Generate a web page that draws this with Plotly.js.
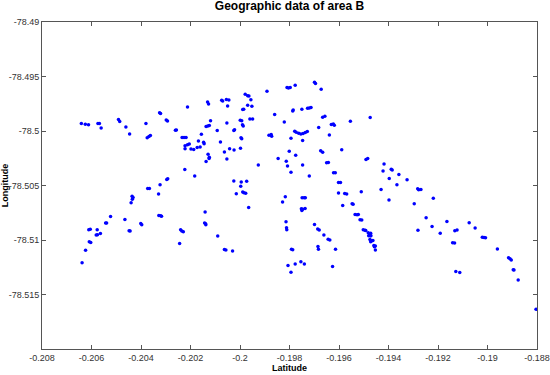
<!DOCTYPE html>
<html>
<head>
<meta charset="utf-8">
<script src="https://cdn.plot.ly/plotly-3.0.1.min.js"></script>
<style>
  html, body { margin: 0; padding: 0; background: #fff; }
  #chart { width: 550px; height: 375px; }
</style>
</head>
<body>
<div id="chart"></div>
<script>
// point positions
var lat = [
  -0.20641, -0.20625, -0.20612, -0.20574, -0.20568, -0.20561, -0.20491, -0.20486, -0.20461, -0.20446,
  -0.20380, -0.20375, -0.20368, -0.20362, -0.20325, -0.20321, -0.20298, -0.20293, -0.20261, -0.20257,
  -0.20234, -0.20226, -0.20218, -0.20222, -0.20222, -0.20212, -0.20205, -0.20198, -0.20187, -0.20173,
  -0.20161, -0.20168, -0.20156, -0.20147, -0.20145, -0.20212, -0.20131, -0.20127, -0.20137, -0.20130,
  -0.20124, -0.20119, -0.20129, -0.20125, -0.20124, -0.20137, -0.20092, -0.20079, -0.20074, -0.20070,
  -0.20055, -0.20045, -0.20050, -0.20053, -0.20063, -0.20042, -0.20053, -0.20025, -0.20022, -0.20024,
  -0.20223, -0.20183, -0.20296, -0.20292, -0.20323, -0.20373, -0.20366, -0.20329, -0.20025,
  -0.19979, -0.19969, -0.19964, -0.19956, -0.19969, -0.19952, -0.19989, -0.19985, -0.19999, -0.19993,
  -0.19990, -0.19987, -0.19960, -0.19949, -0.19996, -0.19993, -0.19998, -0.19891, -0.19810, -0.19804,
  -0.19797, -0.19777, -0.19699, -0.19695, -0.19672, -0.19787, -0.19785, -0.19750, -0.19727, -0.19720,
  -0.19713, -0.19860, -0.19821, -0.19666, -0.19657, -0.19554, -0.19474, -0.19631, -0.19623, -0.19619,
  -0.19682, -0.19639, -0.19779, -0.19773, -0.19763, -0.19754, -0.19745, -0.19736, -0.19728, -0.19794,
  -0.19747, -0.19883, -0.19874, -0.19872, -0.19801, -0.19775, -0.19846, -0.19813, -0.19808, -0.19794,
  -0.19926, -0.19747, -0.19720, -0.19674, -0.19666, -0.19589, -0.19650, -0.19643, -0.19622, -0.19615,
  -0.19602, -0.19594, -0.19491, -0.19484, -0.19418, -0.19422, -0.19389, -0.19397, -0.19510, -0.19430,
  -0.19577, -0.19569, -0.19602, -0.19995, -0.19973, -0.19997, -0.19989, -0.19984, -0.19977, -0.20015,
  -0.19385, -0.19358, -0.19366, -0.19325, -0.19282, -0.19278, -0.19269, -0.19219, -0.19398, -0.19296,
  -0.19248, -0.19164, -0.19074, -0.19281, -0.19224, -0.19191, -0.19132, -0.19123, -0.19050, -0.19021,
  -0.19014, -0.19008, -0.19141, -0.19133, -0.18960, -0.18915, -0.18909, -0.18904, -0.18896, -0.18893,
  -0.19128, -0.19112, -0.18876, -0.18804,
  -0.20436, -0.20432, -0.20435, -0.20440, -0.20523, -0.20543, -0.20539, -0.20465, -0.20611, -0.20605,
  -0.20577, -0.20581, -0.20576, -0.20564, -0.20609, -0.20603, -0.20624, -0.20638, -0.20448, -0.20444,
  -0.20401, -0.20397, -0.20328, -0.20321, -0.20317, -0.20141, -0.20143, -0.20139, -0.20138, -0.20240,
  -0.20235, -0.20229, -0.20244, -0.20090, -0.20063, -0.20057, -0.20030, -0.19965,
  -0.19817, -0.19828, -0.19749, -0.19741, -0.19736, -0.19752, -0.19747, -0.19737, -0.19750, -0.19585,
  -0.19547, -0.19543, -0.19535, -0.19527, -0.19522, -0.19515, -0.19508, -0.19502, -0.19495, -0.19492,
  -0.19482, -0.19476, -0.19472, -0.19480, -0.19474, -0.19471, -0.19475, -0.19467, -0.19463, -0.19472,
  -0.19459, -0.19453, -0.19457, -0.19453, -0.19814, -0.19812, -0.19811, -0.19699, -0.19686, -0.19680,
  -0.19661, -0.19644, -0.19637, -0.19685, -0.19683, -0.19614, -0.19792, -0.19787, -0.19806, -0.19777,
  -0.19754, -0.19740, -0.19794, -0.19626
];

var lon = [
  -78.49931, -78.49938, -78.49942, -78.49931, -78.49931, -78.49973, -78.49895, -78.49912, -78.49963, -78.50028,
  -78.49931, -78.50061, -78.50050, -78.50041, -78.49832, -78.49840, -78.49899, -78.49908, -78.49993, -78.49990,
  -78.50059, -78.50059, -78.50059, -78.50135, -78.50162, -78.50126, -78.50119, -78.50164, -78.50170, -78.50151,
  -78.50147, -78.50091, -78.50029, -78.50103, -78.50118, -78.49780, -78.49734, -78.49752, -78.49958, -78.49954,
  -78.49950, -78.49907, -78.50213, -78.50252, -78.50240, -78.50280, -78.49995, -78.50100, -78.49718, -78.49725,
  -78.49710, -78.49715, -78.49770, -78.49927, -78.50192, -78.50162, -78.50258, -78.49995, -78.49988, -78.50174,
  -78.50353, -78.50412, -78.50446, -78.50439, -78.50492, -78.50527, -78.50527, -78.50577, -78.50458,
  -78.49663, -78.49676, -78.49678, -78.49713, -78.49764, -78.49773, -78.49803, -78.49800, -78.49901, -78.49907,
  -78.49942, -78.49954, -78.49889, -78.49889, -78.50063, -78.50072, -78.50158, -78.49635, -78.49601, -78.49605,
  -78.49601, -78.49580, -78.49553, -78.49565, -78.49617, -78.49816, -78.49807, -78.49800, -78.49791, -78.49788,
  -78.49785, -78.49849, -78.49917, -78.49874, -78.49864, -78.49910, -78.49875, -78.49940, -78.49935, -78.49947,
  -78.49968, -78.50036, -78.50002, -78.50011, -78.50020, -78.50027, -78.50023, -78.50014, -78.50005, -78.50066,
  -78.50087, -78.50039, -78.50032, -78.50048, -78.50185, -78.50222, -78.50252, -78.50277, -78.50320, -78.50378,
  -78.50311, -78.50311, -78.50412, -78.50182, -78.50194, -78.50173, -78.50292, -78.50289, -78.50384, -78.50384,
  -78.50472, -78.50472, -78.50261, -78.50252, -78.50302, -78.50368, -78.50350, -78.50435, -78.50558, -78.50536,
  -78.50573, -78.50579, -78.50568, -78.50469, -78.50460, -78.50506, -78.50559, -78.50567, -78.50570, -78.50575,
  -78.50357, -78.50399, -78.50494, -78.50448, -78.50529, -78.50540, -78.50536, -78.50616, -78.50632, -78.50668,
  -78.50795, -78.50830, -78.50842, -78.50911, -78.50877, -78.50937, -78.50916, -78.50909, -78.50889, -78.50975,
  -78.50978, -78.50980, -78.51026, -78.51028, -78.51083, -78.51163, -78.51172, -78.51184, -78.51273, -78.51276,
  -78.51290, -78.51299, -78.51368, -78.51635,
  -78.50598, -78.50611, -78.50625, -78.50659, -78.50784, -78.50845, -78.50843, -78.50811, -78.50905, -78.50902,
  -78.50905, -78.50953, -78.50952, -78.50940, -78.51017, -78.51022, -78.51095, -78.51209, -78.50914, -78.50918,
  -78.50848, -78.50859, -78.50775, -78.50778, -78.50781, -78.50742, -78.50843, -78.50852, -78.50860, -78.50907,
  -78.50918, -78.50924, -78.51031, -78.50964, -78.51088, -78.51091, -78.51100, -78.50701,
  -78.50604, -78.50651, -78.50613, -78.50613, -78.50613, -78.50714, -78.50719, -78.50712, -78.50729, -78.50683,
  -78.50668, -78.50671, -78.50765, -78.50769, -78.50765, -78.50815, -78.50816, -78.50907, -78.50911, -78.50912,
  -78.50934, -78.50949, -78.50939, -78.50962, -78.50962, -78.50962, -78.50996, -78.51007, -78.51004, -78.51017,
  -78.51051, -78.51054, -78.51062, -78.51091, -78.50833, -78.50888, -78.50907, -78.50857, -78.50900, -78.50909,
  -78.50955, -78.50994, -78.50999, -78.51059, -78.51086, -78.51086, -78.51086, -78.51090, -78.51235, -78.51221,
  -78.51200, -78.51221, -78.51296, -78.51244
];

var xTicks = [-0.208, -0.206, -0.204, -0.202, -0.2, -0.198, -0.196, -0.194, -0.192, -0.19, -0.188];
var xTickText = ['-0.208', '-0.206', '-0.204', '-0.202', '-0.2', '-0.198', '-0.196', '-0.194', '-0.192', '-0.19', '-0.188'];
var yTicks = [-78.49, -78.495, -78.5, -78.505, -78.51, -78.515];
var yTickText = ['-78.49', '-78.495', '-78.5', '-78.505', '-78.51', '-78.515'];

var data = [{
  x: lat,
  y: lon,
  mode: 'markers',
  type: 'scatter',
  marker: { color: '#0000ff', size: 3.5 },
  hoverinfo: 'x+y'
}];

var layout = {
  width: 550,
  height: 375,
  margin: { l: 42, r: 13, t: 22, b: 26 },
  paper_bgcolor: '#fff',
  plot_bgcolor: '#fff',
  showlegend: false,
  font: { family: 'Liberation Sans, Arial', size: 9, color: '#333' },
  title: {
    text: '<b>Geographic data of area B</b>',
    font: { family: 'Liberation Sans, Arial', size: 12, color: '#000' },
    x: 0.5,
    xref: 'paper',
    y: 0.995,
    yref: 'container',
    yanchor: 'top'
  },
  xaxis: {
    range: [-0.208, -0.188],
    tickvals: xTicks,
    ticktext: xTickText,
    ticks: 'inside',
    ticklen: 4,
    tickcolor: '#555',
    showline: true,
    linecolor: '#555',
    mirror: 'ticks',
    showgrid: false,
    zeroline: false,
    title: {
      text: '<b>Latitude</b>',
      font: { size: 9, color: '#000' },
      standoff: 2
    }
  },
  yaxis: {
    range: [-78.52, -78.49],
    tickvals: yTicks,
    ticktext: yTickText,
    ticks: 'inside',
    ticklen: 4,
    tickcolor: '#555',
    showline: true,
    linecolor: '#555',
    mirror: 'ticks',
    showgrid: false,
    zeroline: false,
    title: {
      text: '<b>Longitude</b>',
      font: { size: 9, color: '#000' },
      standoff: 4
    }
  }
};

Plotly.newPlot('chart', data, layout, { displayModeBar: false, staticPlot: true });
</script>
</body>
</html>
